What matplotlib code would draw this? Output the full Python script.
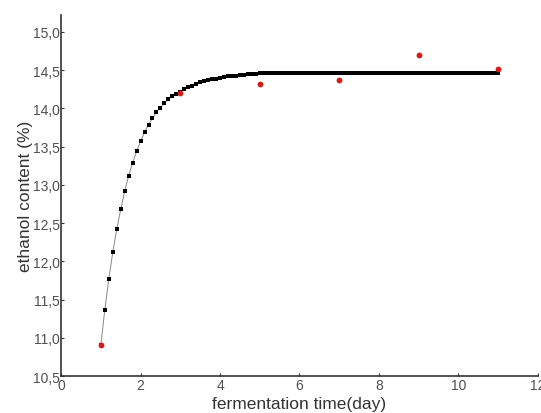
'''Ethanol content vs fermentation time: fitted curve + measurements'''
import numpy as np
import matplotlib
matplotlib.use('Agg')
import matplotlib.pyplot as plt
from matplotlib.ticker import FuncFormatter

plt.rcParams['font.family'] = ['Liberation Sans', 'DejaVu Sans']

# measured points (red)
days = [1, 3, 5, 7, 9, 11]
ethanol = [10.91, 14.20, 14.32, 14.37, 14.70, 14.52]

# fitted curve, sampled every 0.1 day from 1 to 11 (black squares)
fit_x = np.linspace(1, 11, 101)
fit_y = [
    10.91, 11.37, 11.77, 12.12, 12.42, 12.68, 12.92, 13.12, 13.29, 13.44,
    13.57, 13.69, 13.79, 13.87, 13.95, 14.01, 14.07, 14.12, 14.16, 14.19,
    14.22, 14.25, 14.28, 14.30, 14.32, 14.34, 14.36, 14.37, 14.38, 14.39,
    14.40, 14.41, 14.42, 14.43, 14.43, 14.44, 14.44, 14.45, 14.45, 14.45,
    14.46, 14.46, 14.46, 14.46, 14.46, 14.47, 14.47, 14.47, 14.47, 14.47,
    14.47, 14.47, 14.47, 14.47, 14.47, 14.47, 14.47, 14.47, 14.47, 14.47,
    14.47, 14.47, 14.47, 14.47, 14.47, 14.47, 14.47, 14.47, 14.47, 14.47,
    14.47, 14.47, 14.47, 14.47, 14.47, 14.47, 14.47, 14.47, 14.47, 14.47,
    14.47, 14.47, 14.47, 14.47, 14.47, 14.47, 14.47, 14.47, 14.47, 14.47,
    14.47, 14.47, 14.47, 14.47, 14.47, 14.47, 14.47, 14.47, 14.47, 14.47,
    14.47,
]

x_ticks = [0, 2, 4, 6, 8, 10, 12]
y_ticks = [10.5, 11.0, 11.5, 12.0, 12.5, 13.0, 13.5, 14.0, 14.5, 15.0]

fig = plt.figure(figsize=(5.41, 4.14), dpi=100)
ax = fig.add_axes([0.113, 0.089, 0.881, 0.872])

ax.plot(fit_x, fit_y, '-', color='#888888', lw=0.7, zorder=1)
ax.plot(fit_x, fit_y, 's', color='black', ms=3.2, mew=0, zorder=2)
ax.plot(days, ethanol, 'o', color='#d01c1c', ms=4.2, mew=0, zorder=3)

ax.set_xlim(0, 12)
ax.set_ylim(10.5, 15.22)
ax.set_xticks(x_ticks)
ax.set_yticks(y_ticks)
ax.yaxis.set_major_formatter(FuncFormatter(lambda v, p: ('%.1f' % v).replace('.', ',')))

for s in ['top', 'right']:
    ax.spines[s].set_visible(False)
for s in ['left', 'bottom']:
    ax.spines[s].set_color('#333333')
    ax.spines[s].set_linewidth(1.2)

ax.tick_params(direction='in', length=2.5, width=0.8, colors='#333333',
               labelsize=10, labelcolor='#505050', pad=1)

ax.set_xlabel('fermentation time(day)', fontsize=12.5, color='#333333', labelpad=3)
ax.set_ylabel('ethanol content (%)', fontsize=12.5, color='#333333', labelpad=0)

fig.savefig('out.png', dpi=100)
